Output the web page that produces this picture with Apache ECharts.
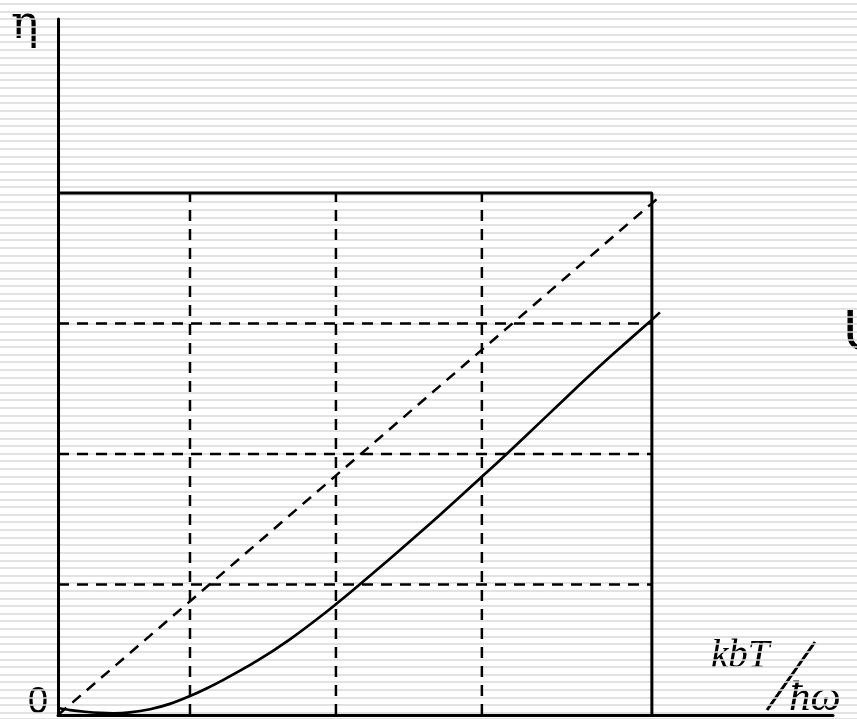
<!DOCTYPE html>
<html>
<head>
<meta charset="utf-8">
<script src="https://cdn.jsdelivr.net/npm/echarts@6.0.0/dist/echarts.min.js"></script>
</head>
<body style="margin:0">
<div id="container" style="width:857px;height:719px;"></div>
<script>
// x: one unit = a quarter of the box width, y: one unit = one dashed row
var curveX = [0, 0.081, 0.182, 0.283, 0.370, 0.485, 0.620, 0.754, 0.889, 1.0, 1.111, 1.340, 1.562, 1.785, 1.966, 2.121, 2.350, 2.572, 2.842, 2.997, 3.293, 3.515, 3.737, 3.987, 4.054];
var curveY = [0.054, 0.038, 0.025, 0.016, 0.013, 0.0195, 0.044, 0.085, 0.145, 0.203, 0.267, 0.414, 0.580, 0.770, 0.937, 1.086, 1.310, 1.532, 1.812, 1.973, 2.292, 2.532, 2.764, 3.015, 3.085];
var diagX = [0, 4.04];
var diagY = [0, 3.96];
var gridX = [0.889, 1.872, 2.855];
var gridY = [1, 2, 3];
var boxX = [0, 4, 4];
var boxY = [4, 4, 0];

var dom = document.getElementById("container");
var myChart = echarts.init(dom);

function pairs(xs, ys) {
    var out = [];
    for (var i = 0; i < xs.length; i++) out.push([xs[i], ys[i]]);
    return out;
}

var dash = { color: '#000', width: 2.5, type: [11, 8] };
var series = [];
series.push({ type: 'line', xAxisIndex: 1, yAxisIndex: 1, data: pairs(boxX, boxY), showSymbol: false,
    lineStyle: { color: '#000', width: 3 } });
for (var i = 0; i < gridX.length; i++) {
    series.push({ type: 'line', xAxisIndex: 1, yAxisIndex: 1, showSymbol: false,
        data: [[gridX[i], 0], [gridX[i], 4]], lineStyle: dash });
}
for (var j = 0; j < gridY.length; j++) {
    series.push({ type: 'line', xAxisIndex: 1, yAxisIndex: 1, showSymbol: false,
        data: [[0, gridY[j]], [4, gridY[j]]], lineStyle: dash });
}
series.push({ type: 'line', xAxisIndex: 1, yAxisIndex: 1, showSymbol: false,
    data: pairs(diagX, diagY), lineStyle: dash });
series.push({ type: 'line', xAxisIndex: 1, yAxisIndex: 1, showSymbol: false, smooth: 0.25,
    data: pairs(curveX, curveY), lineStyle: { color: '#000', width: 2.7 } });

function label(text, x, y, size, family, italic) {
    return { type: 'text', x: x, y: y, style: { text: text, fontSize: size, fontFamily: family,
        fontStyle: italic ? 'italic' : 'normal', fill: '#000', verticalAlign: 'top' } };
}

var option = {
    animation: false,
    backgroundColor: '#fff',
    grid: [
        { left: 0, right: 0, top: 4, bottom: 0 },
        { left: 58, right: 24, top: 19, bottom: 4 }
    ],
    xAxis: [
        { gridIndex: 0, type: 'value', show: false, min: 0, max: 1 },
        { gridIndex: 1, type: 'value', min: 0, max: 5.22,
          axisLine: { onZero: false, lineStyle: { color: '#000', width: 3 } },
          axisTick: { show: false }, axisLabel: { show: false }, splitLine: { show: false } }
    ],
    yAxis: [
        // background stripes
        { gridIndex: 0, type: 'value', inverse: true, min: 0, max: 93.83, interval: 1,
          axisLine: { show: false }, axisTick: { show: false }, axisLabel: { show: false },
          splitLine: { show: true, lineStyle: { color: '#d9d9d9', width: 1.7 } } },
        { gridIndex: 1, type: 'value', min: 0, max: 5.333,
          axisLine: { onZero: false, lineStyle: { color: '#000', width: 3 } },
          axisTick: { show: false }, axisLabel: { show: false }, splitLine: { show: false } }
    ],
    graphic: [
        label('η', 11, 3, 46, 'DejaVu Serif', false),
        label('0', 28, 685, 36, 'Liberation Sans', false),
        label('kbT', 711, 637, 39, 'Liberation Serif', true),
        label('ħω', 789, 677, 43, 'Liberation Serif', true),
        { type: 'line', shape: { x1: 767, y1: 710, x2: 815, y2: 642 }, style: { stroke: '#000', lineWidth: 3 } },
        label('U', 843, 305, 58, 'Liberation Sans', false)
    ],
    series: series
};
myChart.setOption(option);
</script>
</body>
</html>
